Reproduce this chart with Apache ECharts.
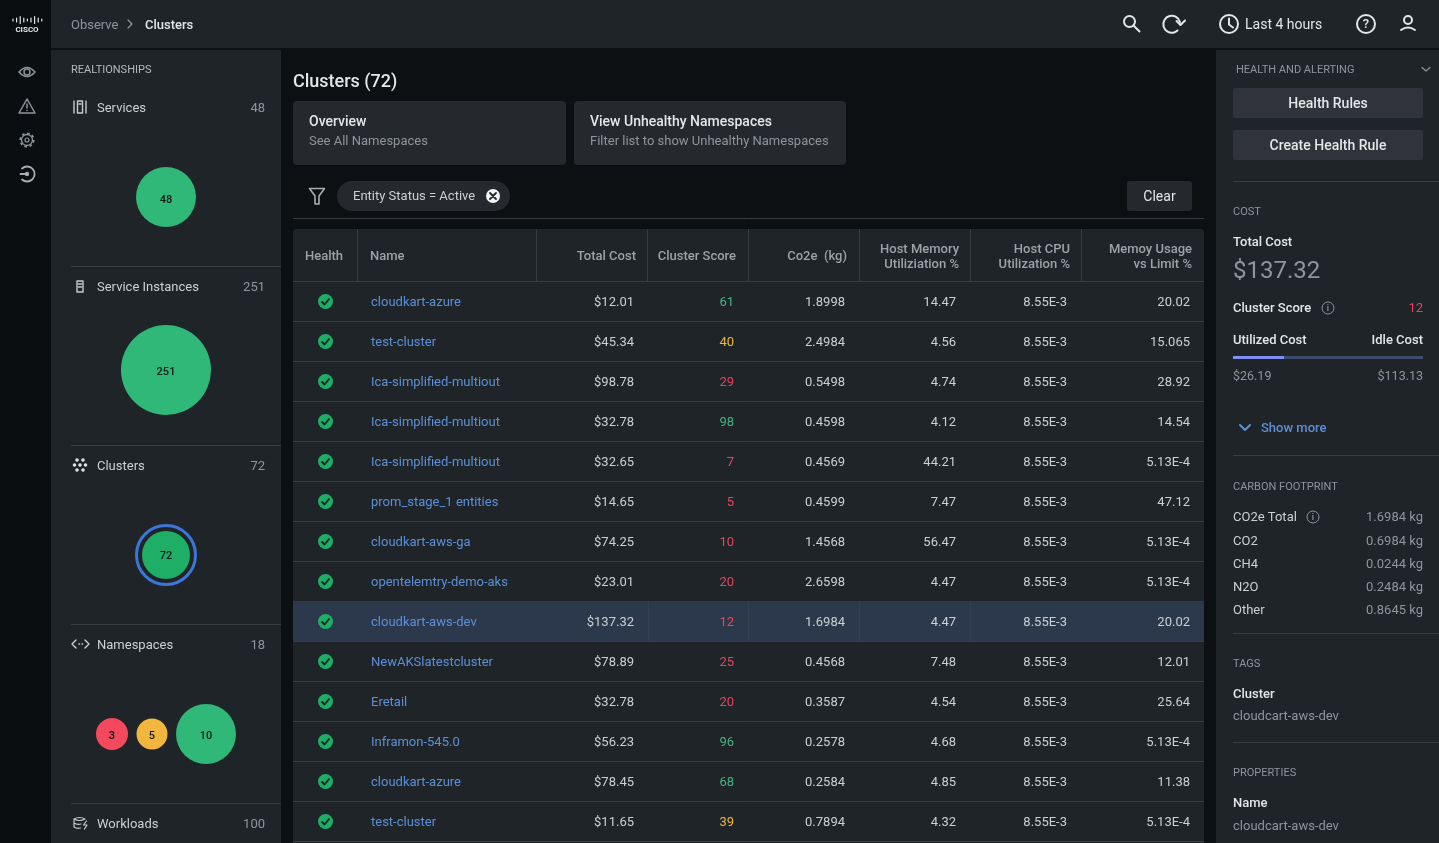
<!DOCTYPE html>
<html>
<head>
<meta charset="utf-8">
<title>Clusters</title>
<style>
html, body { margin: 0; padding: 0; background: #0d1012; }
#main { width: 1439px; height: 843px; }
</style>
<script src="https://cdn.jsdelivr.net/npm/echarts@6/dist/echarts.min.js"></script>
</head>
<body>
<div id="main"></div>
<script>
// table values
var clusterNames = ['cloudkart-azure', 'test-cluster', 'Ica-simplified-multiout', 'Ica-simplified-multiout', 'Ica-simplified-multiout', 'prom_stage_1 entities', 'cloudkart-aws-ga', 'opentelemtry-demo-aks', 'cloudkart-aws-dev', 'NewAKSlatestcluster', 'Eretail', 'Inframon-545.0', 'cloudkart-azure', 'test-cluster'];
var totalCost = ['$12.01', '$45.34', '$98.78', '$32.78', '$32.65', '$14.65', '$74.25', '$23.01', '$137.32', '$78.89', '$32.78', '$56.23', '$78.45', '$11.65'];
var clusterScore = [61, 40, 29, 98, 7, 5, 10, 20, 12, 25, 20, 96, 68, 39];
var co2e = ['1.8998', '2.4984', '0.5498', '0.4598', '0.4569', '0.4599', '1.4568', '2.6598', '1.6984', '0.4568', '0.3587', '0.2578', '0.2584', '0.7894'];
var hostMemory = ['14.47', '4.56', '4.74', '4.12', '44.21', '7.47', '56.47', '4.47', '4.47', '7.48', '4.54', '4.68', '4.85', '4.32'];
var hostCpu = ['8.55E-3', '8.55E-3', '8.55E-3', '8.55E-3', '8.55E-3', '8.55E-3', '8.55E-3', '8.55E-3', '8.55E-3', '8.55E-3', '8.55E-3', '8.55E-3', '8.55E-3', '8.55E-3'];
var memoryLimit = ['20.02', '15.065', '28.92', '14.54', '5.13E-4', '47.12', '5.13E-4', '5.13E-4', '20.02', '12.01', '25.64', '5.13E-4', '11.38', '5.13E-4'];
var selectedRow = 8;

// relationship panel
var relationNames = ['Services', 'Service Instances', 'Clusters', 'Namespaces', 'Workloads'];
var relationCounts = [48, 251, 72, 18, 100];
var servicesBubble = [48];
var instancesBubble = [251];
var clustersBubble = [72];
var namespacesBubble = [3, 5, 10];

// detail panel
var costBarShare = [27, 73];
var carbonLabels = ['CO2e Total', 'CO2', 'CH4', 'N2O', 'Other'];
var carbonValues = ['1.6984 kg', '0.6984 kg', '0.0244 kg', '0.2484 kg', '0.8645 kg'];

var FONT = 'Roboto, sans-serif';
var C = {
    page: '#0d1012', rail: '#0b0e10', panel: '#1f2429', card: '#25282c', btn: '#30343a',
    line: '#383d42', text: '#ccd0d3', white: '#e4e6e8', grey: '#8f959a', head: '#9ca2a6',
    link: '#5e8fd6', green: '#2fb877', greenDark: '#1eae66', red: '#f4485c', yellow: '#f2b63e', blue: '#3c76d8',
    selected: '#2c394c', scoreGreen: '#46b381', scoreYellow: '#efb93f', scoreRed: '#e5455c'
};

function txt(x, y, text, size, fill, weight, align, z) {
    return {
        type: 'text', x: x, y: y + 1, z: z || 5, silent: true,
        style: {
            text: text, fill: fill, font: (weight || 400) + ' ' + size + 'px ' + FONT,
            align: align || 'left', textAlign: align || 'left',
            verticalAlign: 'middle', textVerticalAlign: 'middle'
        }
    };
}
function box(x, y, w, h, fill, r) {
    return { type: 'rect', z: 1, silent: true, shape: { x: x, y: y, width: w, height: h, r: r || 0 }, style: { fill: fill } };
}
function hline(x1, x2, y, color) {
    return { type: 'line', z: 2, silent: true, shape: { x1: x1, y1: y + 0.5, x2: x2, y2: y + 0.5 }, style: { stroke: color || C.line, lineWidth: 1 } };
}
function vline(x, y1, y2, color) {
    return { type: 'line', z: 2, silent: true, shape: { x1: x + 0.5, y1: y1, x2: x + 0.5, y2: y2 }, style: { stroke: color || C.line, lineWidth: 1 } };
}
function ring(cx, cy, r, color, lw, dash) {
    return { type: 'circle', z: 3, silent: true, shape: { cx: cx, cy: cy, r: r }, style: { fill: 'none', stroke: color, lineWidth: lw || 1.5, lineDash: dash || null } };
}
function dot(cx, cy, r, color) {
    return { type: 'circle', z: 3, silent: true, shape: { cx: cx, cy: cy, r: r }, style: { fill: color } };
}
function icon(d, color, lw, fill) {
    return { type: 'path', silent: true, shape: { pathData: d }, style: { fill: fill || 'none', stroke: color, lineWidth: lw || 1.5, lineCap: 'round', lineJoin: 'round' } };
}

var chrome = [
    box(0, 0, 1439, 843, C.page),
    box(0, 0, 51, 843, C.rail),
    box(51, 0, 1388, 48, C.panel),
    box(51, 50, 230, 793, C.panel),
    box(1216, 50, 223, 793, C.panel),

    // top bar
    txt(71, 25, 'Observe', 13, C.grey),
    txt(145, 25, 'Clusters', 13, C.white, 500),
    ring(1129.5, 21.5, 5.5, C.white, 2),
    ring(1229, 24, 9, C.white, 2),
    txt(1245, 24, 'Last 4 hours', 14, C.white, 400),
    ring(1366, 24, 9, C.white, 2),
    txt(1366, 23.5, '?', 13, C.white, 500, 'center'),
    ring(1408, 20, 4, C.white, 2),
    txt(27, 28.5, 'CISCO', 8, C.white, 700, 'center'),

    // left rail
    ring(27, 72, 3, C.grey),
    dot(27, 110.5, 0.8, C.grey),
    ring(27, 140, 5.5, C.grey, 1.3),
    ring(27, 140, 6.8, C.grey, 1.6, [2.7, 2.6]),
    ring(27, 140, 2, C.grey, 1.2),
    dot(27, 174, 2.2, '#a8adb1'),

    // relationships panel
    txt(71, 69, 'REALTIONSHIPS', 11, '#b4b9bd'),
    hline(71, 281, 266), hline(71, 281, 445), hline(71, 281, 624), hline(71, 281, 803),
    dot(77, 460, 1.8, '#e0e3e5'), dot(83, 460, 1.8, '#e0e3e5'),
    dot(74.5, 465, 1.8, '#e0e3e5'), dot(80, 465, 1.8, '#e0e3e5'), dot(85.5, 465, 1.8, '#e0e3e5'),
    dot(77, 470, 1.8, '#e0e3e5'), dot(83, 470, 1.8, '#e0e3e5'),

    // main header
    txt(293, 81, 'Clusters (72)', 18, C.white, 500),
    box(293, 101, 273, 64, C.card, 4),
    box(574, 101, 272, 64, C.card, 4),
    txt(309, 121, 'Overview', 14, C.white, 500),
    txt(309, 141, 'See All Namespaces', 13, C.grey),
    txt(590, 121, 'View Unhealthy Namespaces', 14, C.white, 500),
    txt(590, 141, 'Filter list to show Unhealthy Namespaces', 13, C.grey),
    box(337, 181, 173, 30, C.card, 15),
    txt(353, 196, 'Entity Status = Active', 13, C.text),
    dot(493, 196, 7, '#f1f2f3'),
    box(1127, 181, 65, 30, C.card, 2),
    txt(1159.5, 196, 'Clear', 14, C.white, 400, 'center'),
    hline(293, 1204, 218),

    // table head
    { type: 'rect', z: 1, silent: true, shape: { x: 293, y: 229, width: 911, height: 614, r: [4, 4, 0, 0] }, style: { fill: C.panel } },
    hline(293, 1204, 281),
    vline(357, 229, 281), vline(536, 229, 281), vline(647, 229, 281), vline(748, 229, 281),
    vline(859, 229, 281), vline(970, 229, 281), vline(1081, 229, 281),
    txt(305, 256, 'Health', 13, C.head, 500),
    txt(370, 256, 'Name', 13, C.head, 500),
    txt(636, 256, 'Total Cost', 13, C.head, 500, 'right'),
    txt(736, 256, 'Cluster Score', 13, C.head, 500, 'right'),
    txt(847, 256, 'Co2e  (kg)', 13, C.head, 500, 'right'),
    txt(959, 249, 'Host Memory', 13, C.head, 500, 'right'),
    txt(959, 264, 'Utiliziation %', 13, C.head, 500, 'right'),
    txt(1070, 249, 'Host CPU', 13, C.head, 500, 'right'),
    txt(1070, 264, 'Utilization %', 13, C.head, 500, 'right'),
    txt(1192, 249, 'Memoy Usage', 13, C.head, 500, 'right'),
    txt(1192, 264, 'vs Limit %', 13, C.head, 500, 'right'),

    // right panel
    txt(1236, 69, 'HEALTH AND ALERTING', 11, C.grey),
    box(1233, 88, 190, 30, C.btn, 2),
    box(1233, 130, 190, 30, C.btn, 2),
    txt(1328, 103, 'Health Rules', 14, C.white, 500, 'center'),
    txt(1328, 145, 'Create Health Rule', 14, C.white, 500, 'center'),
    hline(1233, 1439, 181),
    txt(1233, 211, 'COST', 11, C.grey),
    txt(1233, 242, 'Total Cost', 13, C.white, 500),
    txt(1233, 271, '$137.32', 24, C.grey),
    txt(1233, 308, 'Cluster Score', 13, C.white, 500),
    ring(1328, 308, 6, C.grey, 1),
    txt(1328, 307.5, 'i', 9, C.grey, 500, 'center'),
    txt(1423, 308, '12', 13, C.scoreRed, 400, 'right'),
    txt(1233, 340, 'Utilized Cost', 13, C.white, 500),
    txt(1423, 340, 'Idle Cost', 13, C.white, 500, 'right'),
    txt(1233, 376, '$26.19', 12.5, C.grey),
    txt(1423, 376, '$113.13', 12.5, C.grey, 400, 'right'),
    txt(1261, 428, 'Show more', 13, C.link, 500),
    hline(1233, 1439, 455),
    txt(1233, 486, 'CARBON FOOTPRINT', 11, C.grey),
    ring(1313, 517, 6, C.grey, 1),
    txt(1313, 516.5, 'i', 9, C.grey, 500, 'center'),
    hline(1233, 1439, 633),
    txt(1233, 663, 'TAGS', 11, C.grey),
    txt(1233, 694, 'Cluster', 13, C.white, 500),
    txt(1233, 716, 'cloudcart-aws-dev', 13, C.grey),
    hline(1233, 1439, 742),
    txt(1233, 772, 'PROPERTIES', 11, C.grey),
    txt(1233, 803, 'Name', 13, C.white, 500),
    txt(1233, 826, 'cloudcart-aws-dev', 13, C.grey)
];

// graphic component has no path type, so line icons go through a custom series
var iconEls = [
    icon('M128 20 L132 24 L128 28', C.grey, 1.2),
    icon('M1133.5 25.5 L1139.5 31.5', C.white, 2),
    icon('M1180 22 A8.5 8.5 0 1 0 1177.5 30.5', C.white, 2),
    icon('M1176.5 21 L1180.5 25 L1185 20.5', C.white, 2),
    icon('M1229 18.5 L1229 24.5 L1233 27.5', C.white, 2),
    icon('M1401 30 Q1408 25 1415 30', C.white, 2),
    icon('M13 19 L13 21 M16.6 18 L16.6 22 M20.2 16.5 L20.2 23.5 M23.8 18 L23.8 22 M27.4 19 L27.4 21 M31 18 L31 22 M34.6 16.5 L34.6 23.5 M38.2 18 L38.2 22 M41.8 19 L41.8 21', C.white, 1.2),
    icon('M19 72 Q27 63 35 72 Q27 81 19 72 Z', C.grey),
    icon('M27 99 L35 113 L19 113 Z M27 104 L27 108', C.grey),
    icon('M22 168.5 A7.5 7.5 0 1 1 22 179.5 M20.5 174 L27 174', '#a8adb1', 1.8),
    icon('M74 101 L74 113 M86 101 L86 113 M77.5 101 H82.5 V113 H77.5 Z M79 104 H81', '#c7cbce', 1.4),
    icon('M77 281 H83 V292 H77 Z M78.5 284 H81.5 M78.5 287 H81.5', '#c7cbce', 1.4),
    icon('M76 640 L72 644 L76 648 M85 640 L89 644 L85 648 M79 644 L79.5 644 M82 644 L82.5 644', '#d3d7da', 1.3),
    icon('M74 819 Q79.5 816 85 819 Q79.5 822 74 819 M74 819 V827 Q77 829 80.5 828 M74 823 Q77 825 81 824', '#c7cbce', 1.2),
    icon('M86.5 821 L83.5 825 H87 L84.5 829', '#c7cbce', 1.2),
    icon('M309.5 188.5 H324.5 L319 196 V204 H315 V196 Z', '#a8adb1', 1.6),
    icon('M490 193 L496 199 M496 193 L490 199', '#25282c', 1.8),
    icon('M1422 67.5 L1426 71 L1430 67.5', C.grey, 1.2),
    icon('M1240 425 L1245 430 L1250 425', C.link, 2)
];

// relationship rows
var relationY = [108, 287, 466, 645, 824];
relationNames.forEach(function (name, i) {
    chrome.push(txt(97, relationY[i], name, 13, C.text));
    chrome.push(txt(265, relationY[i], String(relationCounts[i]), 13, C.grey, 400, 'right'));
});
// carbon rows
var carbonY = [517, 541, 564, 587, 610];
carbonLabels.forEach(function (name, i) {
    chrome.push(txt(1233, carbonY[i], name, 13, C.text));
    chrome.push(txt(1423, carbonY[i], carbonValues[i], 13, C.grey, 400, 'right'));
});

// bubbles: one hidden grid per relationship section, x axis in panel pixels
var grids = [], xAxes = [], yAxes = [], series = [];
function addGrid(left, top, width, height, xa, ya) {
    grids.push({ left: left, top: top, width: width, height: height, containLabel: false });
    xAxes.push(Object.assign({ gridIndex: grids.length - 1, show: false }, xa));
    yAxes.push(Object.assign({ gridIndex: grids.length - 1, show: false }, ya));
    return grids.length - 1;
}
function bubbleSeries(name, values, sizes, colors, startX, cy, labelDy) {
    var g = addGrid(71, cy - 50, 210, 100,
        { type: 'value', min: 0, max: 210 },
        { type: 'category', data: [name] });
    // pack the bubbles side by side, gap fixed
    var x = startX - 71, pts = [];
    values.forEach(function (v, i) {
        pts.push({
            value: [x + sizes[i] / 2, 0, v],
            symbolSize: sizes[i],
            itemStyle: { color: colors[i], opacity: 1 }
        });
        x += sizes[i] + 8.5;
    });
    series.push({
        type: 'scatter', name: name, xAxisIndex: g, yAxisIndex: g, data: pts, z: 4, silent: true,
        label: {
            show: true, position: 'inside', offset: [0, labelDy], color: '#0c1a14', fontFamily: FONT, fontSize: 11, fontWeight: 500,
            formatter: function (p) { return String(p.value[2]); }
        }
    });
    return g;
}
bubbleSeries('Services', servicesBubble, [60], [C.green], 136, 197, 3);
bubbleSeries('Service Instances', instancesBubble, [90], [C.green], 121, 370, 2);
var clusterGrid = bubbleSeries('Clusters', clustersBubble, [48], [C.greenDark], 142, 555, 1);
bubbleSeries('Namespaces', namespacesBubble, [32, 31, 60], [C.red, C.yellow, C.green], 96, 734, 2);
series.push({
    type: 'scatter', name: 'Clusters selected', xAxisIndex: clusterGrid, yAxisIndex: clusterGrid, z: 4, silent: true,
    data: [[95, 0]], symbolSize: 59,
    itemStyle: { color: 'rgba(0,0,0,0)', borderColor: C.blue, borderWidth: 3, opacity: 1 }
});

// cost bar
var barGrid = addGrid(1233, 356, 190, 3,
    { type: 'value', min: 0, max: 100 },
    { type: 'category', data: ['cost'] });
series.push({ type: 'bar', name: 'Utilized', stack: 'cost', xAxisIndex: barGrid, yAxisIndex: barGrid, data: [costBarShare[0]], barWidth: 3, itemStyle: { color: '#7f8ef2' }, silent: true });
series.push({ type: 'bar', name: 'Idle', stack: 'cost', xAxisIndex: barGrid, yAxisIndex: barGrid, data: [costBarShare[1]], barWidth: 3, itemStyle: { color: '#3b4a6b' }, silent: true });

// table body, x axis is in page pixels so columns line up with the header
var tableGrid = addGrid(293, 281, 911, 560,
    { type: 'value', min: 293, max: 1204 },
    { type: 'category', inverse: true, data: clusterNames.map(function (n, i) { return i; }) });

function scoreColor(s) {
    if (s >= 60) return C.scoreGreen;
    if (s >= 30) return C.scoreYellow;
    return C.scoreRed;
}
function renderRow(params, api) {
    var i = api.value(0);
    var mid = api.coord([293, i])[1];
    var top = mid - 20, bottom = mid + 20, y = mid + 0.5;
    var kids = [];
    if (i === selectedRow) {
        kids.push({ type: 'rect', shape: { x: 293, y: top, width: 911, height: 40 }, style: { fill: C.selected } });
        [648, 748, 859, 970].forEach(function (x) {
            kids.push({ type: 'line', shape: { x1: x + 0.5, y1: top, x2: x + 0.5, y2: bottom }, style: { stroke: '#323f54', lineWidth: 1 } });
        });
    }
    kids.push({ type: 'line', shape: { x1: 293, y1: bottom + 0.5, x2: 1204, y2: bottom + 0.5 }, style: { stroke: C.line, lineWidth: 1 } });
    kids.push({ type: 'circle', shape: { cx: 325.5, cy: y, r: 7.5 }, style: { fill: C.greenDark } });
    kids.push({ type: 'polyline', shape: { points: [[321.5, y], [324.5, y + 3], [329.5, y - 3]] }, style: { fill: 'none', stroke: '#16241f', lineWidth: 1.8 } });
    kids.push(txt(371, y, clusterNames[i], 13, C.link));
    kids.push(txt(634, y, totalCost[i], 13, C.text, 400, 'right'));
    kids.push(txt(734, y, String(clusterScore[i]), 13, scoreColor(clusterScore[i]), 400, 'right'));
    kids.push(txt(845, y, co2e[i], 13, C.text, 400, 'right'));
    kids.push(txt(956, y, hostMemory[i], 13, C.text, 400, 'right'));
    kids.push(txt(1067, y, hostCpu[i], 13, C.text, 400, 'right'));
    kids.push(txt(1190, y, memoryLimit[i], 13, C.text, 400, 'right'));
    return { type: 'group', children: kids };
}
series.push({
    type: 'custom', name: 'Clusters table', xAxisIndex: tableGrid, yAxisIndex: tableGrid, z: 3, silent: true, clip: false,
    encode: { y: 0 },
    data: clusterNames.map(function (n, i) { return [i]; }),
    renderItem: renderRow
});
series.push({
    type: 'custom', name: 'Icons', coordinateSystem: 'none', z: 6, silent: true,
    data: [[0]],
    renderItem: function () { return { type: 'group', children: iconEls }; }
});

var chart = echarts.init(document.getElementById('main'), null, { renderer: 'canvas' });
chart.setOption({
    animation: false,
    backgroundColor: C.page,
    textStyle: { fontFamily: FONT },
    tooltip: { show: false },
    grid: grids,
    xAxis: xAxes,
    yAxis: yAxes,
    graphic: { elements: chrome },
    series: series
});
</script>
</body>
</html>
